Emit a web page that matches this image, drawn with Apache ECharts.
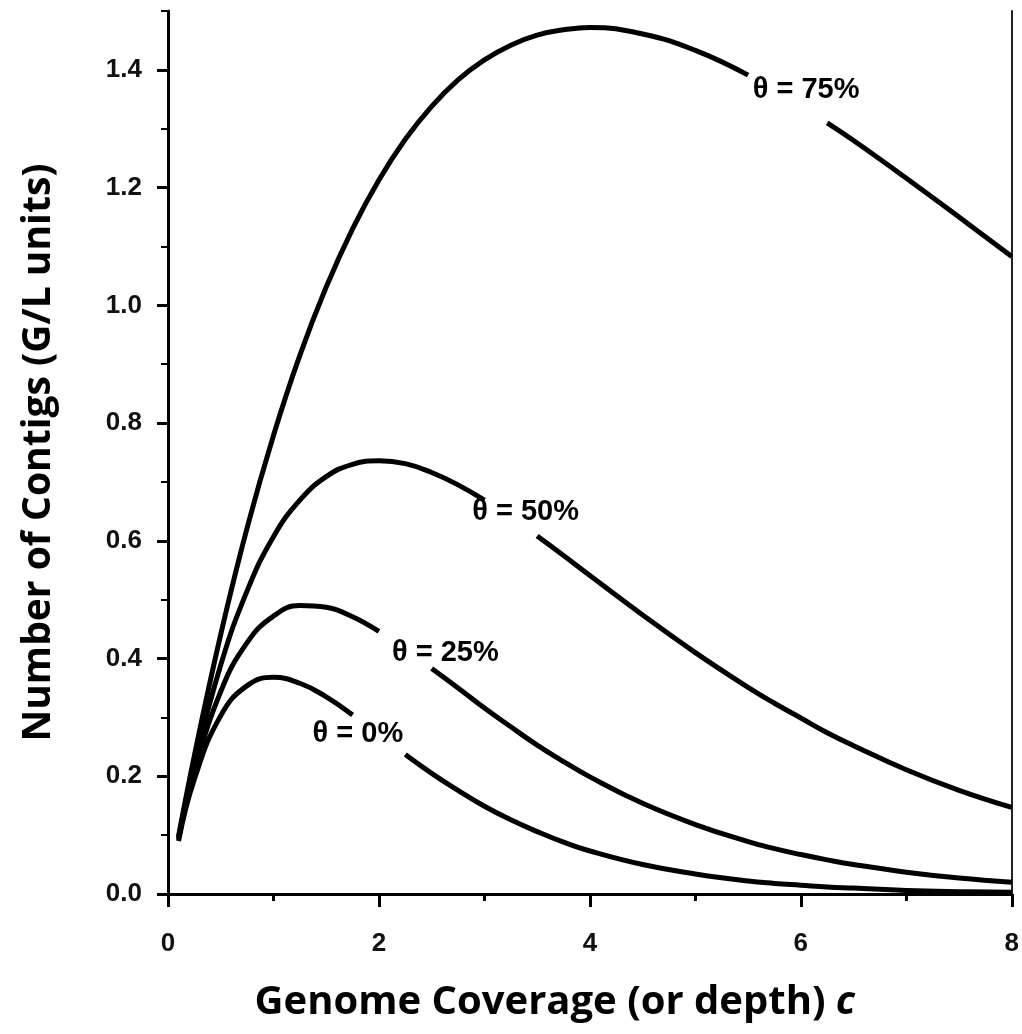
<!DOCTYPE html>
<html>
<head>
<meta charset="utf-8">
<script src="https://cdn.jsdelivr.net/npm/echarts@6/dist/echarts.min.js"></script>
<style>
html,body{margin:0;padding:0;background:#fff;}
#chart{width:1022px;height:1034px;}
</style>
</head>
<body>
<div id="chart"></div>
<script>
// Genome coverage c (x values shared by all curves)
const coverage = [0.1, 0.25, 0.5, 0.75, 1, 1.25, 1.5, 1.75, 2, 2.25, 2.5, 2.75, 3, 3.25, 3.5, 3.75, 4, 4.5, 5, 5.5, 5.75, 6, 6.25, 6.5, 7, 7.5, 8];
// Number of contigs (null = gap where the curve label sits)
const theta0  = [0.090, 0.195, 0.303, 0.354, 0.368, 0.358, 0.335, 0.304, null, 0.237, 0.205, 0.176, 0.149, 0.126, 0.106, 0.088, 0.073, 0.050, 0.034, 0.022, 0.018, 0.015, 0.012, 0.010, 0.006, 0.004, 0.003];
const theta25 = [0.093, 0.207, 0.344, 0.427, 0.472, 0.490, 0.487, 0.471, 0.446, null, 0.383, 0.350, 0.316, 0.284, 0.253, 0.225, 0.199, 0.154, 0.118, 0.089, 0.077, 0.067, 0.058, 0.050, 0.037, 0.027, 0.020];
const theta50 = [0.095, 0.221, 0.389, 0.515, 0.607, 0.669, 0.709, 0.730, 0.736, 0.731, 0.716, 0.695, 0.669, null, 0.608, 0.575, 0.541, 0.474, 0.410, 0.351, 0.324, 0.299, 0.274, 0.252, 0.211, 0.176, 0.147];
const theta75 = [0.098, 0.235, 0.441, 0.622, 0.779, 0.915, 1.031, 1.130, 1.213, 1.282, 1.338, 1.383, 1.417, 1.442, 1.459, 1.468, 1.472, 1.461, 1.433, 1.391, null, null, 1.310, 1.280, 1.216, 1.150, 1.083];
// Curve labels and their anchor points (data coordinates)
const curveLabels = ['θ = 0%', 'θ = 25%', 'θ = 50%', 'θ = 75%'];
const labelX = [1.80, 2.63, 3.39, 6.05];
const labelY = [0.272, 0.410, 0.649, 1.366];
// Axis tick labels
const xTicks = [0, 2, 4, 6, 8];
const yTicks = ['0.0', '0.2', '0.4', '0.6', '0.8', '1.0', '1.2', '1.4'];

const toPairs = vals => coverage.map((c, i) => [c, vals[i] === null ? '-' : vals[i]]);
const tickFont = {fontFamily: 'Liberation Sans', fontWeight: 'bold', fontSize: 26, color: '#111'};
const black = '#000';

const lineSeries = [theta0, theta25, theta50, theta75].map((vals, k) => ({
  type: 'line',
  name: curveLabels[k],
  data: toPairs(vals),
  showSymbol: false,
  symbol: 'none',
  smooth: 0.45,
  connectNulls: false,
  lineStyle: {color: black, width: 5},
  z: 3
}));

const chart = echarts.init(document.getElementById('chart'), null, {renderer: 'canvas'});
chart.setOption({
  animation: false,
  backgroundColor: '#fff',
  grid: {left: 168, right: 3, top: 11, bottom: 140, containLabel: false, show: false},
  xAxis: [{
    type: 'value', min: 0, max: 8, interval: 2, position: 'bottom',
    axisLine: {show: true, lineStyle: {color: black, width: 3}},
    axisTick: {show: true, inside: false, length: 13, lineStyle: {color: black, width: 3}},
    minorTick: {show: true, splitNumber: 2, length: 7, lineStyle: {color: black, width: 3}},
    splitLine: {show: false},
    axisLabel: Object.assign({margin: 37, formatter: v => xTicks.includes(v) ? String(v) : ''}, tickFont),
    name: 'Genome Coverage (or depth) {i|c}',
    nameLocation: 'middle',
    nameGap: 89,
    nameTextStyle: {
      fontFamily: 'Open Sans', fontWeight: 'bold', fontSize: 40, color: '#000',
      padding: [0, 70, 0, 0],
      rich: {i: {fontFamily: 'Open Sans', fontWeight: 'bold', fontStyle: 'italic', fontSize: 40, color: '#000'}}
    }
  }, {
    type: 'value', min: 0, max: 8, position: 'top',
    axisLine: {show: true, lineStyle: {color: black, width: 3}},
    axisTick: {show: false}, axisLabel: {show: false}, splitLine: {show: false}
  }],
  yAxis: [{
    type: 'value', min: 0, max: 1.5, interval: 0.2, position: 'left',
    axisLine: {show: true, lineStyle: {color: black, width: 3}},
    axisTick: {show: true, inside: false, length: 11, lineStyle: {color: black, width: 3}},
    splitLine: {show: false},
    axisLabel: Object.assign({margin: 26, showMaxLabel: false,
      formatter: v => { const i = Math.round(v / 0.2); return Math.abs(v - i * 0.2) < 1e-6 && i < yTicks.length ? yTicks[i] : ''; }}, tickFont),
    name: 'Number of Contigs (G/L units)',
    nameLocation: 'middle',
    nameGap: 110,
    nameRotate: 90,
    nameTextStyle: {fontFamily: 'Open Sans', fontWeight: 'bold', fontSize: 39, color: '#000'}
  }, {
    type: 'value', min: 0, max: 1.5, interval: 0.1, position: 'left',
    axisLine: {show: false},
    axisTick: {show: true, inside: false, length: 7, lineStyle: {color: black, width: 2}},
    axisLabel: {show: false}, splitLine: {show: false}
  }, {
    type: 'value', min: 0, max: 1.5, position: 'right',
    axisLine: {show: true, lineStyle: {color: '#222', width: 2}},
    axisTick: {show: false}, axisLabel: {show: false}, splitLine: {show: false}
  }],
  series: lineSeries.concat([{
    type: 'scatter',
    symbol: 'circle',
    symbolSize: 2,
    itemStyle: {color: 'rgba(255,255,255,0)', opacity: 1},
    data: curveLabels.map((t, i) => ({name: t, value: [labelX[i], labelY[i]]})),
    label: {
      show: true, position: 'inside', formatter: p => p.name,
      fontFamily: 'Liberation Sans', fontWeight: 'bold', fontSize: 29, color: '#000'
    },
    z: 5
  }])
});
</script>
</body>
</html>
